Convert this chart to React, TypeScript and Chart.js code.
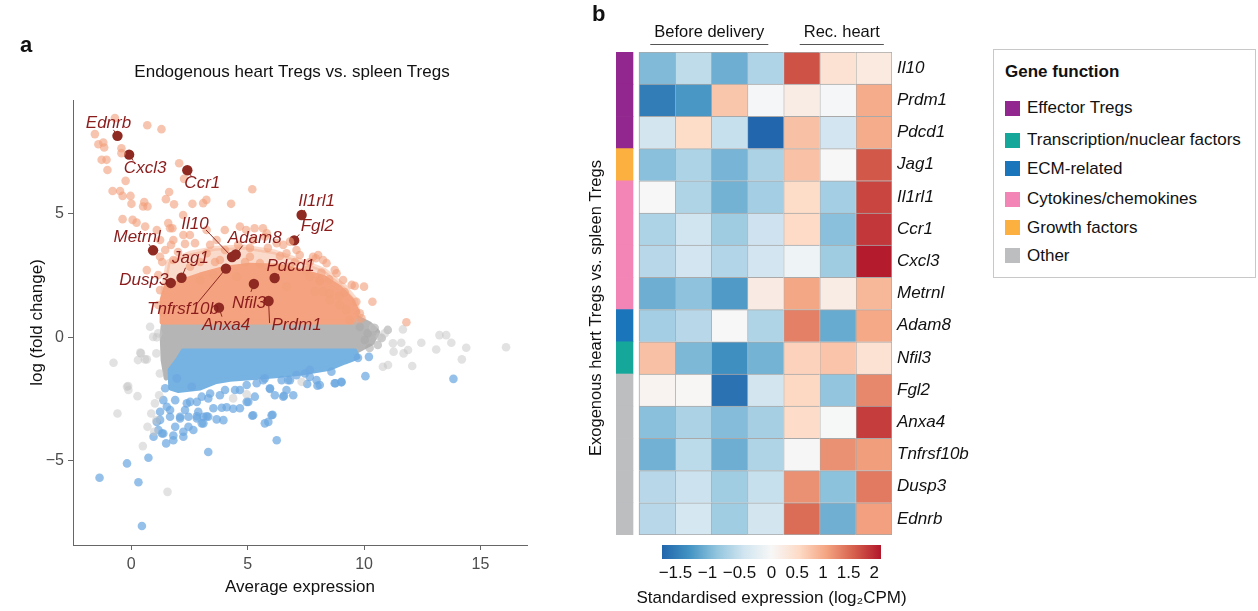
import React, { useEffect, useRef } from "react";
import { Chart, registerables } from "chart.js";

Chart.register(...registerables);

const FONT = "'Liberation Sans', Arial, Helvetica, sans-serif";

// ---------------- Panel a: MA plot ----------------
const MA_TITLE = "Endogenous heart Tregs vs. spleen Tregs";
const X_TITLE = "Average expression";
const Y_TITLE = "log (fold change)";
const X_TICKS = [0, 5, 10, 15];
const Y_TICKS = [-5, 0, 5];

// sparse up-regulated genes [avg expression, logFC]
const UP_POINTS = [
  [-0.7, 8.87], [0.69, 8.58], [1.3, 8.42], [-1.56, 8.22], [-1.41, 7.81], [-1.2, 7.88], [-1.16, 7.68],
  [-0.42, 7.65], [-0.42, 7.45], [-1.27, 7.18], [-1.06, 7.18], [-1.02, 6.77], [2.06, 7.04], [2.27, 6.41],
  [-0.24, 6.33], [-0.8, 5.92], [-0.48, 5.92], [-0.37, 5.72], [-0.03, 5.72], [1.63, 5.88], [0.01, 5.4],
  [0.56, 5.47], [0.51, 5.29], [0.7, 5.29], [1.49, 5.59], [1.84, 5.38], [2.63, 5.4], [3.09, 5.43],
  [3.23, 5.56], [5.2, 5.99], [-0.37, 4.78], [0.06, 4.75], [0.23, 4.64], [1.59, 4.62], [2.23, 4.95],
  [1.77, 4.41], [2.52, 4.14], [4.02, 4.34], [4.94, 4.34], [5.3, 4.41], [5.66, 4.41], [4.29, 5.4],
  [5.74, 4.07], [6.53, 3.74], [6.82, 3.87], [8.03, 3.33], [8.24, 3.13], [9.1, 2.32], [9.6, 2.08],
  [7.93, 3.2], [8.17, 2.62], [7.67, 2.45], [8.5, 2.35], [8.1, 2.28], [10.0, 2.05], [7.89, 1.85],
  [8.24, 1.85], [8.53, 1.78], [8.93, 1.67], [9.67, 1.44], [10.36, 1.44], [8.96, 1.31], [9.24, 1.11],
  [9.82, 0.97], [9.89, 0.77], [9.39, 0.7], [11.82, 0.61],
  [0.6, 4.48], [1.1, 4.34], [1.67, 4.41], [1.24, 3.94], [1.81, 3.94], [2.24, 4.14], [2.74, 3.81],
  [3.24, 4.34], [3.67, 3.94], [4.67, 4.48], [5.24, 3.94], [5.82, 4.21], [6.25, 3.81], [6.67, 3.4],
  [7.1, 3.53], [7.81, 3.26], [8.39, 3.0], [8.82, 2.59], [3.24, 3.4], [3.81, 3.13], [5.1, 3.26],
  [5.53, 3.0], [6.82, 2.86], [7.53, 2.72], [8.1, 2.32], [1.24, 3.26], [1.81, 3.13], [2.53, 2.86],
  [0.67, 2.72], [2.96, 2.32], [3.53, 2.52], [4.53, 2.45], [6.67, 2.05],
  [1.33, 3.05], [1.16, 2.52], [1.24, 1.91], [1.46, 3.53], [1.71, 3.74], [2.01, 3.45], [2.31, 3.78],
  [1.16, 1.31], [1.37, 1.02], [8.53, 1.51], [9.17, 1.83], [9.47, 2.12], [8.74, 2.72], [7.67, 3.05],
  [7.24, 3.33], [7.03, 3.05], [6.39, 3.29], [5.87, 3.62], [5.1, 3.62], [4.59, 3.74], [4.03, 3.53],
  [3.39, 3.74], [2.96, 3.05], [3.6, 3.05], [4.89, 3.05], [6.17, 2.81]
];

// sparse down-regulated genes
const DOWN_POINTS = [
  [-1.36, -5.68], [-0.18, -5.1], [0.31, -5.86], [0.46, -7.63], [0.74, -4.87], [3.31, -4.64],
  [6.25, -4.16], [5.74, -3.48], [6.07, -3.13], [5.2, -3.17], [10.06, -1.57], [13.84, -1.68],
  [10.21, -0.79], [9.74, -0.83], [9.03, -1.82], [8.77, -1.86], [8.0, -1.96], [7.56, -1.89],
  [6.96, -2.34], [6.56, -2.36], [6.17, -2.34], [5.96, -2.09], [4.67, -2.87], [4.38, -2.89],
  [4.1, -2.83], [3.89, -2.85], [3.53, -2.87], [3.24, -3.19], [3.03, -3.48], [2.82, -3.19],
  [2.46, -3.21], [2.1, -3.21], [1.81, -3.97], [2.24, -4.02], [1.5, -4.29], [1.32, -3.89],
  [0.96, -4.02], [1.1, -3.42], [1.67, -3.21], [1.24, -3.01], [1.53, -2.81], [1.89, -2.54],
  [2.39, -2.67], [2.82, -2.61], [3.31, -2.47], [3.81, -2.34], [4.96, -2.61], [5.31, -2.4],
  [4.46, -2.13], [1.38, -2.54], [1.46, -2.06], [1.96, -1.66], [5.67, -1.73], [6.82, -1.73],
  [7.67, -1.6],
  [1.67, -2.94], [1.24, -3.34], [1.17, -3.75], [1.38, -3.89], [1.89, -3.62], [2.1, -3.28],
  [2.31, -2.94], [2.53, -2.61], [2.88, -3.01], [3.1, -3.21], [3.31, -3.21], [3.1, -3.48],
  [3.67, -3.32], [3.96, -3.35], [3.03, -2.4], [3.39, -2.27], [4.03, -2.13], [4.67, -2.13],
  [5.03, -2.61], [5.24, -3.15], [5.89, -3.42], [6.03, -3.15], [5.39, -1.86], [5.96, -2.06],
  [6.53, -2.4], [6.67, -2.13], [6.46, -1.73], [6.74, -1.73], [7.46, -1.46], [7.96, -1.73],
  [8.1, -1.93], [8.74, -1.86], [9.03, -1.8], [8.6, -1.39], [2.46, -3.62], [2.67, -3.75],
  [2.24, -3.82], [1.81, -4.16], [2.82, -3.28], [2.6, -2.0], [4.96, -1.93], [5.74, -1.66],
  [7.1, -1.53], [7.67, -1.32]
];

// sparse non-significant genes (light grey)
const NS_POINTS = [
  [-0.76, -1.03], [-0.59, -3.08], [-0.18, -2.0], [-0.12, -2.13], [0.27, -2.38], [0.39, -0.62],
  [0.29, -0.92], [0.67, -0.89], [0.81, 0.43], [1.1, 0.0], [0.5, -4.4], [1.56, -6.25], [0.7, -3.62],
  [0.86, -3.08], [0.99, -3.82], [4.38, -2.47], [4.96, -2.3], [7.32, -1.8], [11.24, -0.24],
  [11.6, -0.22], [11.89, -0.51], [12.46, -0.22], [13.1, -0.49], [13.24, 0.09], [13.53, 0.09],
  [13.75, -0.22], [14.39, -0.42], [14.2, -0.89], [16.1, -0.4], [12.07, -1.16], [10.81, -1.19],
  [11.03, -1.12], [11.67, 0.32], [10.89, 0.16], [10.67, 0.02], [10.39, 0.4], [0.42, -0.65],
  [0.59, -0.89], [1.08, -0.65], [-0.13, -1.97], [0.94, 0.02], [1.16, 0.16], [1.23, -1.46],
  [1.2, -2.34], [1.02, -2.67], [1.08, -3.35], [11.27, -0.58], [11.7, -0.65]
];

// sparse non-significant genes near the dense cloud (darker grey)
const NS_DARK_POINTS = [
  [9.82, 0.42], [10.16, 0.17], [10.46, 0.38], [10.76, -0.03], [10.03, -0.11], [11.02, 0.3],
  [10.59, -0.31], [10.24, -0.43]
];

// outlines of the saturated (overplotted) point clouds
const NS_CLOUD = [
  [1.41, 0.78], [9.73, 0.78], [10.24, 0.54], [10.59, 0.21], [10.33, -0.23], [9.6, -0.59],
  [2.53, -0.59], [2.1, -0.92], [1.76, -1.4], [1.5, -1.64], [1.37, -0.92], [1.33, 0.09]
];
const UP_CLOUD_OUTER = [
  [1.37, 1.92], [1.59, 3.05], [2.53, 3.4], [3.6, 3.6], [4.89, 3.65], [6.17, 3.45], [7.24, 3.1],
  [8.32, 2.7], [9.17, 2.05], [9.64, 1.51], [9.82, 0.62], [1.33, 0.62]
];
const UP_CLOUD = [
  [1.33, 0.62], [1.33, 1.51], [1.5, 2.04], [2.1, 2.24], [2.96, 2.52], [4.03, 2.8], [5.1, 2.92],
  [6.39, 2.88], [7.46, 2.64], [8.32, 2.4], [8.96, 2.0], [9.47, 1.51], [9.73, 1.02], [9.47, 0.62]
];
const DOWN_CLOUD = [
  [2.23, -0.55], [9.6, -0.55], [9.73, -0.8], [9.17, -1.0], [8.53, -1.25], [7.24, -1.45],
  [6.2, -1.55], [5.53, -1.6], [4.24, -1.7], [3.6, -1.8], [2.96, -2.05], [2.01, -2.15],
  [1.7, -2.05], [1.67, -1.32], [2.01, -0.9]
];

const HL_GENES = ["Ednrb", "Cxcl3", "Ccr1", "Il1rl1", "Fgl2", "Il10", "Adam8", "Metrnl", "Jag1",
  "Dusp3", "Tnfrsf10b", "Anxa4", "Nfil3", "Pdcd1", "Prdm1"];
const HL_X = [-0.59, -0.09, 2.41, 7.32, 7.0, 4.33, 4.49, 0.94, 2.16, 1.7, 4.07, 3.77, 5.27, 6.16, 5.9];
const HL_Y = [8.15, 7.39, 6.76, 4.95, 3.92, 3.25, 3.35, 3.52, 2.41, 2.2, 2.78, 1.2, 2.16, 2.4, 1.47];

// label placement (pixel offsets from the point): text dx, dy, leader end dx, dy
const LABEL_LAYOUT = [
  [-9, -13, -4, -6], [16, 14, 4, 6], [15, 13, 4, 6], [15, -14, 3, -5], [23, -14, 5, -6],
  [-37, -33, -26, -27], [19, -16, 7, -9], [-16, -13, -4, -6], [9, -19, 4, -10], [-27, -3, 0, 0],
  [-43, 41, -29, 35], [7, 18, 3, 9], [-5, 19, -3, 8], [16, -12, 4, -4], [28, 24, 1, 22]
];

// ---------------- Panel b: heatmap ----------------
const GENES = ["Il10", "Prdm1", "Pdcd1", "Jag1", "Il1rl1", "Ccr1", "Cxcl3", "Metrnl", "Adam8",
  "Nfil3", "Fgl2", "Anxa4", "Tnfrsf10b", "Dusp3", "Ednrb"];
const GENE_GROUP = [0, 0, 0, 4, 3, 3, 3, 3, 2, 1, 5, 5, 5, 5, 5];
const GROUPS = ["Effector Tregs", "Transcription/nuclear factors", "ECM-related",
  "Cytokines/chemokines", "Growth factors", "Other"];
const GROUP_COLORS = ["#92278F", "#15A89A", "#1B75BB", "#F285B5", "#FBB040", "#BCBEC0"];
const SAMPLE_GROUPS = ["Before delivery", "Rec. heart"];
const SAMPLE_GROUP_SPAN = [[0, 4], [4, 7]];
const N_SAMPLES = 7;

const EXPR = [
  [-0.95, -0.55, -1.05, -0.65, 1.7, 0.4, 0.25],
  [-1.5, -1.25, 0.75, -0.02, 0.2, -0.03, 1.0],
  [-0.4, 0.52, -0.5, -1.7, 0.8, -0.42, 1.0],
  [-0.9, -0.67, -1.0, -0.68, 0.78, 0.0, 1.65],
  [0.0, -0.66, -1.02, -0.73, 0.52, -0.73, 1.8],
  [-0.67, -0.43, -0.76, -0.45, 0.53, -0.9, 1.9],
  [-0.6, -0.42, -0.64, -0.42, -0.1, -0.76, 2.1],
  [-1.05, -0.87, -1.22, 0.22, 1.05, 0.2, 0.88],
  [-0.74, -0.6, 0.0, -0.66, 1.35, -1.08, 1.03],
  [0.8, -0.97, -1.32, -1.01, 0.62, 0.76, 0.4],
  [0.08, 0.02, -1.6, -0.4, 0.56, -0.85, 1.3],
  [-0.9, -0.68, -0.93, -0.72, 0.5, -0.01, 1.85],
  [-1.03, -0.58, -1.05, -0.66, 0.01, 1.22, 1.12],
  [-0.6, -0.46, -0.75, -0.5, 1.22, -0.88, 1.4],
  [-0.6, -0.38, -0.75, -0.4, 1.5, -1.04, 1.1]
];

const CB_MIN = -1.71;
const CB_MAX = 2.13;
const CB_TICKS = [-1.5, -1, -0.5, 0, 0.5, 1, 1.5, 2];
const CB_TITLE = "Standardised expression (log\u2082CPM)";
const Y_TITLE_B = "Exogenous heart Tregs vs. spleen Tregs";

const BLUE_STOPS = ["#F7F7F7", "#D1E5F0", "#92C5DE", "#4393C3", "#2166AC"];
const RED_STOPS = ["#F7F7F7", "#FDDBC7", "#F4A582", "#D6604D", "#B2182B"];

function hexRgb(c: string) {
  return [parseInt(c.slice(1, 3), 16), parseInt(c.slice(3, 5), 16), parseInt(c.slice(5, 7), 16)];
}
function normCb(v: number) {
  return v < 0 ? v / -CB_MIN : v / CB_MAX;
}
function colorFor(v: number) {
  const n = Math.max(-1, Math.min(1, normCb(v)));
  const stops = n < 0 ? BLUE_STOPS : RED_STOPS;
  const s = Math.abs(n) * 4;
  const i = Math.min(3, Math.floor(s));
  const f = s - i;
  const a = hexRgb(stops[i]);
  const b = hexRgb(stops[i + 1]);
  const m = a.map((av, k) => Math.round(av + (b[k] - av) * f));
  return `rgb(${m[0]},${m[1]},${m[2]})`;
}
function minusFmt(v: number) {
  return v < 0 ? "\u2212" + String(Math.abs(v)) : String(v);
}

const CLOUDS = [
  { pts: NS_CLOUD, color: "rgb(181,181,181)" },
  { pts: UP_CLOUD_OUTER, color: "rgba(244,166,132,0.42)" },
  { pts: UP_CLOUD, color: "rgb(244,162,127)" },
  { pts: DOWN_CLOUD, color: "rgb(118,178,226)" }
];

const cloudPlugin = {
  id: "clouds",
  beforeDatasetsDraw(chart: any) {
    const { ctx, chartArea, scales } = chart;
    ctx.save();
    ctx.beginPath();
    ctx.rect(chartArea.left, chartArea.top, chartArea.width, chartArea.height);
    ctx.clip();
    for (const c of CLOUDS) {
      ctx.beginPath();
      c.pts.forEach((p: number[], i: number) => {
        const px = scales.x.getPixelForValue(p[0]);
        const py = scales.y.getPixelForValue(p[1]);
        if (i === 0) ctx.moveTo(px, py);
        else ctx.lineTo(px, py);
      });
      ctx.closePath();
      ctx.fillStyle = c.color;
      ctx.strokeStyle = c.color;
      ctx.lineWidth = 5;
      ctx.lineJoin = "round";
      ctx.fill();
      ctx.stroke();
    }
    ctx.restore();
  }
};

const maLabelPlugin = {
  id: "maLabels",
  afterDatasetsDraw(chart: any) {
    const { ctx, scales, chartArea } = chart;
    ctx.save();
    ctx.font = `italic 17px ${FONT}`;
    ctx.textAlign = "center";
    ctx.textBaseline = "middle";
    HL_GENES.forEach((g, i) => {
      const px = scales.x.getPixelForValue(HL_X[i]);
      const py = scales.y.getPixelForValue(HL_Y[i]);
      const [tx, ty, lx, ly] = LABEL_LAYOUT[i];
      if (lx !== 0 || ly !== 0) {
        ctx.strokeStyle = "#8E2A22";
        ctx.lineWidth = 1;
        ctx.beginPath();
        ctx.moveTo(px, py);
        ctx.lineTo(px + lx, py + ly);
        ctx.stroke();
      }
      ctx.fillStyle = "#8B1C1C";
      ctx.fillText(g, px + tx, py + ty);
    });
    ctx.fillStyle = "#111";
    ctx.font = `17px ${FONT}`;
    ctx.fillText(MA_TITLE, chartArea.left + 219, chartArea.top - 28);
    ctx.restore();
  }
};

const heatPlugin = {
  id: "heatDecor",
  afterDraw(chart: any) {
    const { ctx, scales, chartArea } = chart;
    ctx.save();
    ctx.fillStyle = "#111";
    ctx.strokeStyle = "#555";
    ctx.lineWidth = 1;
    ctx.font = `16.5px ${FONT}`;
    ctx.textAlign = "center";
    ctx.textBaseline = "middle";
    SAMPLE_GROUPS.forEach((g, i) => {
      const x0 = scales.x.getPixelForValue(SAMPLE_GROUP_SPAN[i][0]);
      const x1 = scales.x.getPixelForValue(SAMPLE_GROUP_SPAN[i][1]);
      const cx = (x0 + x1) / 2 + (i === 0 ? -2 : 4);
      const w = ctx.measureText(g).width + 8;
      ctx.fillText(g, cx, chartArea.top - 20);
      ctx.beginPath();
      ctx.moveTo(cx - w / 2, chartArea.top - 7.5);
      ctx.lineTo(cx + w / 2, chartArea.top - 7.5);
      ctx.stroke();
    });
    ctx.translate(chartArea.left - 20, chartArea.top + 256);
    ctx.rotate(-Math.PI / 2);
    ctx.fillText(Y_TITLE_B, 0, 0);
    ctx.restore();
  }
};

const cbTitlePlugin = {
  id: "cbTitle",
  afterDraw(chart: any) {
    const { ctx, chartArea } = chart;
    ctx.save();
    ctx.fillStyle = "#111";
    ctx.font = `17px ${FONT}`;
    ctx.textAlign = "center";
    ctx.textBaseline = "middle";
    ctx.fillText(CB_TITLE, (chartArea.left + chartArea.right) / 2, chartArea.bottom + 39);
    ctx.restore();
  }
};

function maConfig(): any {
  const pts = (arr: number[][]) => arr.map((p) => ({ x: p[0], y: p[1] }));
  return {
    type: "scatter",
    data: {
      datasets: [
        { data: pts(NS_POINTS), backgroundColor: "rgba(198,198,198,0.5)", pointRadius: 4.3, borderWidth: 0 },
        { data: pts(NS_DARK_POINTS), backgroundColor: "rgba(170,170,170,0.6)", pointRadius: 4.3, borderWidth: 0 },
        { data: pts(UP_POINTS), backgroundColor: "rgba(242,158,122,0.6)", pointRadius: 4.3, borderWidth: 0 },
        { data: pts(DOWN_POINTS), backgroundColor: "rgba(108,168,224,0.72)", pointRadius: 4.3, borderWidth: 0 },
        { data: HL_X.map((x, i) => ({ x, y: HL_Y[i] })), backgroundColor: "#8E2A22", pointRadius: 5.2, borderWidth: 0 }
      ]
    },
    options: {
      responsive: false,
      animation: false,
      events: [],
      layout: { padding: { left: 0, top: 100, right: 33, bottom: 0 } },
      plugins: { legend: { display: false }, tooltip: { enabled: false }, title: { display: false } },
      scales: {
        x: {
          type: "linear",
          min: -2.5,
          max: 17,
          afterBuildTicks: (s: any) => { s.ticks = X_TICKS.map((v) => ({ value: v })); },
          afterFit: (s: any) => { s.height = 66; },
          ticks: { font: { family: FONT, size: 16 }, color: "#4D4D4D", padding: 5, maxRotation: 0, callback: (v: number) => minusFmt(v) },
          grid: { display: true, drawOnChartArea: false, drawTicks: true, tickLength: 5, color: "#666" },
          border: { display: true, color: "#666", width: 1 },
          title: { display: true, text: X_TITLE, color: "#111", font: { family: FONT, size: 17 }, padding: { top: 0, bottom: 13.8 } }
        },
        y: {
          type: "linear",
          min: -8.4,
          max: 9.6,
          afterBuildTicks: (s: any) => { s.ticks = Y_TICKS.map((v) => ({ value: v })); },
          afterFit: (s: any) => { s.width = 73; },
          ticks: { font: { family: FONT, size: 16 }, color: "#4D4D4D", padding: 4, callback: (v: number) => minusFmt(v) },
          grid: { display: true, drawOnChartArea: false, drawTicks: true, tickLength: 5, color: "#666" },
          border: { display: true, color: "#666", width: 1 },
          title: { display: true, text: Y_TITLE, color: "#111", font: { family: FONT, size: 17 }, padding: { top: 26.8, bottom: 0 } }
        }
      }
    },
    plugins: [cloudPlugin, maLabelPlugin]
  };
}

const ANN_START = -0.636;
const ANN_END = -0.166;

function heatConfig(): any {
  const datasets: any[] = [
    {
      data: GENES.map(() => [ANN_START, ANN_END]),
      backgroundColor: GENE_GROUP.map((g) => GROUP_COLORS[g]),
      borderWidth: 0,
      grouped: false,
      barPercentage: 1,
      categoryPercentage: 1
    }
  ];
  for (let c = 0; c < N_SAMPLES; c++) {
    datasets.push({
      data: GENES.map(() => [c, c + 1]),
      backgroundColor: EXPR.map((row) => colorFor(row[c])),
      borderColor: "#A9A9A9",
      borderSkipped: false,
      borderWidth: (ctx: any) => ({ left: 1, top: 1, right: c === N_SAMPLES - 1 ? 1 : 0, bottom: ctx.dataIndex === GENES.length - 1 ? 1 : 0 }),
      grouped: false,
      barPercentage: 1,
      categoryPercentage: 1
    });
  }
  return {
    type: "bar",
    data: { labels: GENES, datasets },
    options: {
      indexAxis: "y",
      responsive: false,
      animation: false,
      events: [],
      layout: { padding: { left: 56, top: 52, right: 0, bottom: 76 } },
      plugins: { legend: { display: false }, tooltip: { enabled: false } },
      scales: {
        x: { type: "linear", min: ANN_START, max: N_SAMPLES, display: false },
        y: {
          type: "category",
          position: "right",
          afterFit: (s: any) => { s.width = 98; },
          grid: { display: false, drawTicks: false },
          border: { display: false },
          ticks: { font: { family: FONT, size: 17, style: "italic" }, color: "#111", padding: 5 }
        }
      }
    },
    plugins: [heatPlugin]
  };
}

function cbConfig(): any {
  const allStops = [...BLUE_STOPS].reverse().concat(RED_STOPS.slice(1));
  return {
    type: "bar",
    data: {
      labels: [""],
      datasets: [
        {
          data: [[-1, 1]],
          backgroundColor: (ctx: any) => {
            const area = ctx.chart.chartArea;
            if (!area) return "#ccc";
            const g = ctx.chart.ctx.createLinearGradient(area.left, 0, area.right, 0);
            allStops.forEach((c, i) => g.addColorStop(i / (allStops.length - 1), c));
            return g;
          },
          borderWidth: 0,
          barPercentage: 1,
          categoryPercentage: 1
        }
      ]
    },
    options: {
      indexAxis: "y",
      responsive: false,
      animation: false,
      events: [],
      layout: { padding: { left: 62, top: 5, right: 59, bottom: 0 } },
      plugins: { legend: { display: false }, tooltip: { enabled: false } },
      scales: {
        x: {
          type: "linear",
          min: -1,
          max: 1,
          afterBuildTicks: (s: any) => { s.ticks = CB_TICKS.map((v) => ({ value: normCb(v) })); },
          afterFit: (s: any) => { s.height = 52; },
          grid: { display: false, drawTicks: false },
          border: { display: false },
          ticks: {
            font: { family: FONT, size: 17 },
            color: "#111",
            padding: 4,
            autoSkip: false,
            maxRotation: 0,
            callback: (_v: number, i: number) => minusFmt(CB_TICKS[i])
          },
          title: { display: false }
        },
        y: { display: false }
      }
    },
    plugins: [cbTitlePlugin]
  };
}

export default function App() {
  const maRef = useRef<HTMLCanvasElement>(null);
  const hmRef = useRef<HTMLCanvasElement>(null);
  const cbRef = useRef<HTMLCanvasElement>(null);

  useEffect(() => {
    const charts: Chart[] = [];
    if (maRef.current) charts.push(new Chart(maRef.current, maConfig()));
    if (hmRef.current) charts.push(new Chart(hmRef.current, heatConfig()));
    if (cbRef.current) charts.push(new Chart(cbRef.current, cbConfig()));
    return () => charts.forEach((c) => c.destroy());
  }, []);

  const legendTops = [99, 131, 159.5, 190, 218.5, 246.5];

  return (
    <div style={{ position: "absolute", left: 0, top: 0, width: 1258, height: 611, background: "#fff", fontFamily: FONT, color: "#111", overflow: "hidden" }}>
      <canvas ref={maRef} width={560} height={611} style={{ position: "absolute", left: 0, top: 0 }} />
      <canvas ref={hmRef} width={430} height={611} style={{ position: "absolute", left: 560, top: 0 }} />
      <canvas ref={cbRef} width={340} height={71} style={{ position: "absolute", left: 600, top: 540 }} />
      <div style={{ position: "absolute", left: 20, top: 34, fontSize: 22, fontWeight: "bold", lineHeight: "22px" }}>a</div>
      <div style={{ position: "absolute", left: 592, top: 3, fontSize: 22, fontWeight: "bold", lineHeight: "22px" }}>b</div>
      <div style={{ position: "absolute", left: 993, top: 49, width: 263, height: 229, border: "1px solid #C8C8C8", boxSizing: "border-box" }}>
        <div style={{ position: "absolute", left: 11, top: 12, fontSize: 17, fontWeight: "bold", lineHeight: "20px" }}>Gene function</div>
        {GROUPS.map((g, i) => (
          <div key={g} style={{ position: "absolute", left: 11, top: legendTops[i] - 49, height: 16, display: "flex", alignItems: "center" }}>
            <span style={{ display: "inline-block", width: 15, height: 15, background: GROUP_COLORS[i], marginRight: 7 }} />
            <span style={{ fontSize: 17, lineHeight: "16px", whiteSpace: "nowrap" }}>{g}</span>
          </div>
        ))}
      </div>
    </div>
  );
}
